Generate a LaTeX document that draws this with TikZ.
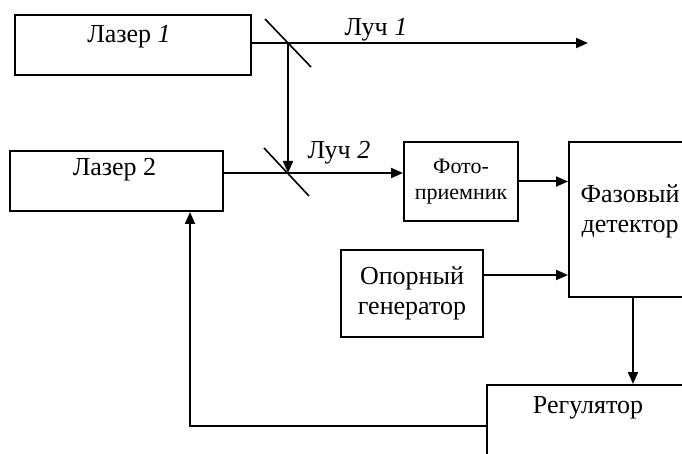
\documentclass[tikz,border=0pt]{standalone}
\usepackage{fontspec}
\setmainfont{Liberation Serif}
\usetikzlibrary{arrows.meta,calc}
\tikzset{
  block/.style = {draw, rectangle, inner sep=0pt, align=center},
  mirror/.style = {line width=1.6pt},
  >={Triangle[length=12pt,width=10pt]}
}

\begin{document}
\begin{tikzpicture}[x=1pt,y=-1pt,line width=2pt,font=\fontsize{26}{30}\selectfont]
  \clip (0,0) rectangle (682,454);
  %
  \coordinate (mirrorA) at (288,43);
  \coordinate (mirrorB) at (288,173);
  \coordinate (beamEnd) at (588,43);
  % lasers
  \node[block,minimum width=236pt,minimum height=60pt] (laserA) at (133,45) {};
  \node (laserAtext) at ($(laserA.north)+(-4,23)$) {Лазер \textit{1}};
  \node[block,minimum width=213pt,minimum height=60pt] (laserB) at (116.5,181) {};
  \node (laserBtext) at ($(laserB.north)+(-2,20)$) {Лазер 2};
  % mirrors
  \draw[mirror] (mirrorA) +(-23,-24) -- +(23,24);
  \draw[mirror] (mirrorB) +(-24,-25) -- +(21,23);
  % beams
  \draw (laserA.east |- mirrorA) -- (mirrorA);
  \draw[->] (mirrorA) -- (beamEnd);
  \draw[->] (mirrorA) -- (mirrorB);
  \draw (laserB.east |- mirrorB) -- (mirrorB);
  \node (beamAtext) at (376,30) {Луч \textit{1}};
  \node (beamBtext) at (339,153) {Луч \textit{2}};
  % detection
  \node[block,minimum width=114pt,minimum height=79pt,font=\fontsize{22}{26}\selectfont] (photo) at (461,181.5) {Фото-\\приемник};
  \node[block,minimum width=128pt,minimum height=155pt] (phase) at (633,219.5) {};
  \node[align=center] (phasetext) at ($(phase.north)+(-3,70)$) {Фазовый\\детектор};
  \node[block,minimum width=142pt,minimum height=87pt] (opor) at (412,293.5) {Опорный\\генератор};
  \node[block,minimum width=202pt,minimum height=82pt] (reg) at (588,426) {};
  \node (regtext) at ($(reg.north)+(0,24)$) {Регулятор};
  \draw[->] (mirrorB) -- (photo.west |- mirrorB);
  \draw[->] (photo.east) -- (photo.east -| phase.west);
  \coordinate (oporOut) at ([yshift=18.5pt]opor.east);
  \draw[->] (oporOut) -- (oporOut -| phase.west);
  \draw[->] (phase.south) -- (phase.south |- reg.north);
  % feedback
  \draw[->] (reg.west) -| ([xshift=73.5pt]laserB.south);
\end{tikzpicture}
\end{document}
